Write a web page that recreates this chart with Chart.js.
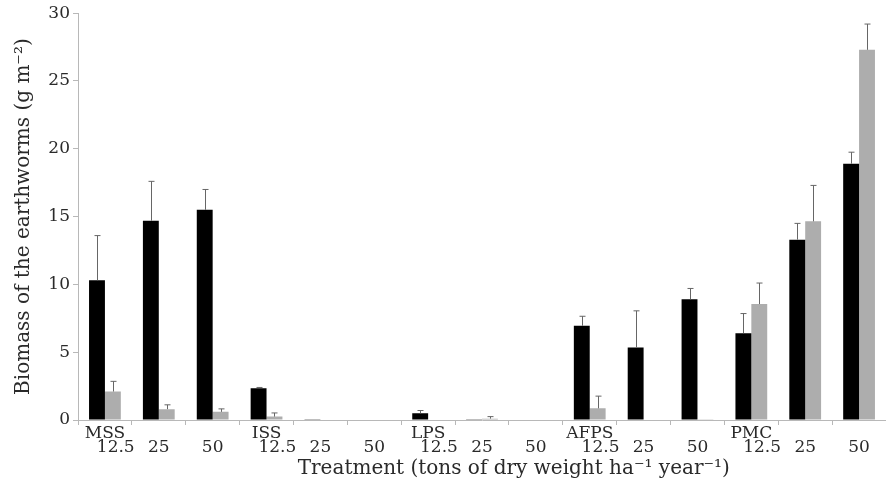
<!DOCTYPE html>
<html lang="en">
<head>
    <meta charset="UTF-8">
    <title>Biomass of the earthworms</title>
    <script src="https://cdn.jsdelivr.net/npm/chart.js"></script>
    <style>
        html, body {
            margin: 0;
            padding: 0;
            background: #fff;
        }
        .wrap {
            width: 886px;
            height: 486px;
        }
    </style>
</head>
<body>
    <div class="wrap">
        <canvas id="bioChart" width="886" height="486"></canvas>
    </div>

    <script>
        // Data
        var treatments = ['MSS', '', '', 'ISS', '', '', 'LPS', '', '', 'AFPS', '', '', 'PMC', '', ''];
        var doses = ['12.5', '25', '50', '12.5', '25', '50', '12.5', '25', '50', '12.5', '25', '50', '12.5', '25', '50'];

        var blackMean = [10.3, 14.7, 15.5, 2.35, 0.05, 0, 0.5, 0.05, 0, 6.95, 5.35, 8.9, 6.4, 13.3, 18.9];
        var blackErr  = [3.3, 2.9, 1.5, 0.05, 0, 0, 0.2, 0, 0, 0.7, 2.7, 0.8, 1.45, 1.2, 0.85];
        var greyMean  = [2.1, 0.8, 0.6, 0.25, 0, 0, 0, 0.1, 0, 0.86, 0, 0.05, 8.55, 14.65, 27.3];
        var greyErr   = [0.75, 0.32, 0.22, 0.27, 0, 0, 0, 0.15, 0, 0.9, 0, 0, 1.55, 2.65, 1.9];

        var yTicks = [0, 5, 10, 15, 20, 25, 30];

        // first dose of each treatment sits a bit to the right, under the name
        var labels = treatments.map(function (t, i) {
            return [t, (i % 3 === 0 ? '    ' : '') + doses[i]];
        });

        var serif = "'DejaVu Serif', 'Liberation Serif', serif";
        var axisGrey = '#b8b8b8';
        var textCol = '#2a2a2a';

        // simple upward error bars with caps
        var errorBars = {
            id: 'errorBars',
            afterDatasetsDraw: function (chart) {
                var ctx = chart.ctx;
                var yScale = chart.scales.y;
                ctx.save();
                ctx.strokeStyle = '#666';
                ctx.lineWidth = 1;
                chart.data.datasets.forEach(function (ds, di) {
                    var meta = chart.getDatasetMeta(di);
                    meta.data.forEach(function (bar, i) {
                        var err = ds.errors[i];
                        if (!err) return;
                        var x = Math.round(bar.x) + 0.5;
                        var yTop = yScale.getPixelForValue(ds.data[i] + err);
                        ctx.beginPath();
                        ctx.moveTo(x, bar.y);
                        ctx.lineTo(x, yTop);
                        ctx.moveTo(x - 3, yTop);
                        ctx.lineTo(x + 3, yTop);
                        ctx.stroke();
                    });
                });
                ctx.restore();
            }
        };

        var ctx = document.getElementById('bioChart').getContext('2d');
        var bioChart = new Chart(ctx, {
            type: 'bar',
            data: {
                labels: labels,
                datasets: [{
                    data: blackMean,
                    errors: blackErr,
                    backgroundColor: '#000'
                }, {
                    data: greyMean,
                    errors: greyErr,
                    backgroundColor: '#adadad'
                }]
            },
            options: {
                responsive: false,
                animation: false,
                layout: {
                    padding: { top: 4, right: 0, bottom: 5, left: 0 }
                },
                plugins: {
                    legend: { display: false },
                    tooltip: { enabled: false }
                },
                datasets: {
                    bar: {
                        categoryPercentage: 0.59,
                        barPercentage: 1.0
                    }
                },
                scales: {
                    x: {
                        afterFit: function (scale) {
                            scale.height = 61;
                        },
                        grid: {
                            offset: true,
                            drawOnChartArea: false,
                            tickLength: 5,
                            color: axisGrey
                        },
                        border: { color: axisGrey },
                        ticks: {
                            maxRotation: 0,
                            autoSkip: false,
                            padding: 2,
                            color: textCol,
                            font: { family: serif, size: 17, lineHeight: 0.8 }
                        },
                        title: {
                            display: true,
                            // leading spaces push the title right, as in the original
                            text: '          Treatment (tons of dry weight ha⁻¹ year⁻¹)',
                            color: textCol,
                            padding: { top: 0, bottom: 0 },
                            font: { family: serif, size: 20 }
                        }
                    },
                    y: {
                        min: 0,
                        max: 30,
                        afterBuildTicks: function (scale) {
                            scale.ticks = yTicks.map(function (v) { return { value: v }; });
                        },
                        afterFit: function (scale) {
                            scale.width = 78;
                        },
                        grid: {
                            drawOnChartArea: false,
                            tickLength: 5,
                            color: axisGrey
                        },
                        border: { color: axisGrey },
                        ticks: {
                            padding: 3,
                            color: textCol,
                            font: { family: serif, size: 17 }
                        },
                        title: {
                            display: true,
                            text: 'Biomass of the earthworms (g m⁻²)',
                            color: textCol,
                            padding: { top: 12, bottom: 0 },
                            font: { family: serif, size: 20 }
                        }
                    }
                }
            },
            plugins: [errorBars]
        });
    </script>
</body>
</html>
